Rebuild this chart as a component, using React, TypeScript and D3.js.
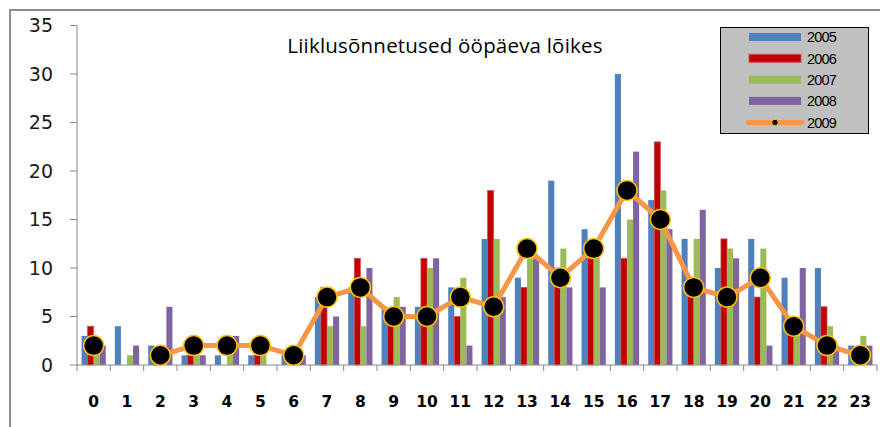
import React from "react";
import * as d3 from "d3";

// hours of the day
const hours = d3.range(24).map(String);
const years = ["2005", "2006", "2007", "2008"];
const colors = ["#4F81BD", "#C00000", "#9BBB59", "#8064A2"];

const v2005 = [3, 4, 2, 1, 1, 1, 1, 7, 8, 6, 6, 8, 13, 9, 19, 14, 30, 17, 13, 10, 13, 9, 10, 2];
const v2006 = [4, 0, 1, 1, 0, 1, 0, 8, 11, 5, 11, 5, 18, 8, 10, 11, 11, 23, 8, 13, 7, 4, 6, 1];
const v2007 = [2, 1, 1, 1, 2, 2, 0, 4, 4, 7, 10, 9, 13, 11, 12, 12, 15, 18, 13, 12, 12, 3, 4, 3];
const v2008 = [2, 2, 6, 1, 3, 0, 1, 5, 10, 6, 11, 2, 7, 11, 8, 8, 22, 14, 16, 11, 2, 10, 2, 2];
const v2009: (number | null)[] = [2, null, 1, 2, 2, 2, 1, 7, 8, 5, 5, 7, 6, 12, 9, 12, 18, 15, 8, 7, 9, 4, 2, 1];
const yTicks = [0, 5, 10, 15, 20, 25, 30, 35];

const W = 880, H = 427;
const m = { left: 77, right: 877, top: 25.5, bottom: 365 };

export default function App() {
  const barSeries = [v2005, v2006, v2007, v2008];
  const x = d3.scaleBand().domain(hours).range([m.left, m.right]);
  const xs = d3.scaleBand().domain(years).range([0, x.bandwidth()]).paddingOuter(0.75);
  const y = d3.scaleLinear().domain([0, 35]).range([m.bottom, m.top]);
  const cx = (i: number) => (x(hours[i]) as number) + x.bandwidth() / 2;
  const line = d3.line<number | null>()
    .defined(d => d != null)
    .x((_, i) => cx(i))
    .y(d => y(d as number));

  const axisCol = "#888";
  return (
    <svg width={W} height={H} style={{ position: "absolute", left: 0, top: 0, background: "#fff" }}>
      {/* outer frame */}
      <path d={`M10,${H + 2}V10H${W + 2}`} fill="none" stroke="#8c8c8c" strokeWidth={2} />

      <text x={445} y={53} textAnchor="middle" fontFamily="Open Sans" fontSize={20.5} letterSpacing={0.2} fill="#000">
        Liiklusõnnetused ööpäeva lõikes
      </text>

      {/* y axis */}
      <line x1={m.left} x2={m.left} y1={m.top} y2={m.bottom} stroke={axisCol} />
      {yTicks.map(t => (
        <g key={t}>
          <line x1={70} x2={m.left} y1={y(t)} y2={y(t)} stroke={axisCol} />
          <text x={53} y={y(t)} dy="0.36em" textAnchor="end" fontFamily="DejaVu Sans" fontSize={19} fill="#1a1a1a">{t}</text>
        </g>
      ))}

      {/* bars */}
      {barSeries.map((s, si) =>
        s.map((v, i) => (
          <rect key={si + "-" + i}
            x={(x(hours[i]) as number) + (xs(years[si]) as number)}
            y={y(v)} width={xs.bandwidth()} height={y(0) - y(v)}
            fill={colors[si]}
            stroke={si === 1 && v > 0 ? "#D05050" : "none"} strokeWidth={si === 1 ? 0.8 : 0} />
        ))
      )}

      {/* x axis */}
      <line x1={m.left} x2={m.right} y1={m.bottom} y2={m.bottom} stroke={axisCol} />
      {d3.range(25).map(i => {
        const xx = m.left + i * x.step();
        return <line key={i} x1={xx} x2={xx} y1={m.bottom} y2={m.bottom + 6} stroke={axisCol} />;
      })}
      {hours.map((h, i) => (
        <text key={h} x={cx(i)} y={407} textAnchor="middle" fontFamily="DejaVu Sans" fontWeight="bold" fontSize={15.5} fill="#000">{h}</text>
      ))}

      {/* 2009 line */}
      <path d={line(v2009) || ""} fill="none" stroke="#F79646" strokeWidth={5} strokeLinejoin="round" />
      {v2009.map((v, i) => v == null ? null : (
        <circle key={i} cx={cx(i)} cy={y(v)} r={10} fill="#000" stroke="#FFC000" strokeWidth={1.5} />
      ))}

      {/* legend */}
      <g>
        <rect x={720.5} y={27.5} width={148} height={106} fill="#C0C0C0" stroke="#000" />
        {years.map((yr, i) => (
          <g key={yr}>
            <rect x={749} y={33 + i * 21.3} width={52} height={8} fill={colors[i]}
              stroke={i === 1 ? "#D05050" : "none"} />
            <text x={807} y={37 + i * 21.3} dy="0.36em" fontFamily="Liberation Sans" fontSize={14.5} letterSpacing={-0.8} fill="#000">{yr}</text>
          </g>
        ))}
        <line x1={748} x2={802} y1={122.5} y2={122.5} stroke="#F79646" strokeWidth={5} strokeLinecap="round" />
        <circle cx={775} cy={122.5} r={3.2} fill="#000" stroke="#FFC000" strokeWidth={1} />
        <text x={807} y={122.5} dy="0.36em" fontFamily="Liberation Sans" fontSize={14.5} letterSpacing={-0.8} fill="#000">2009</text>
      </g>
    </svg>
  );
}
